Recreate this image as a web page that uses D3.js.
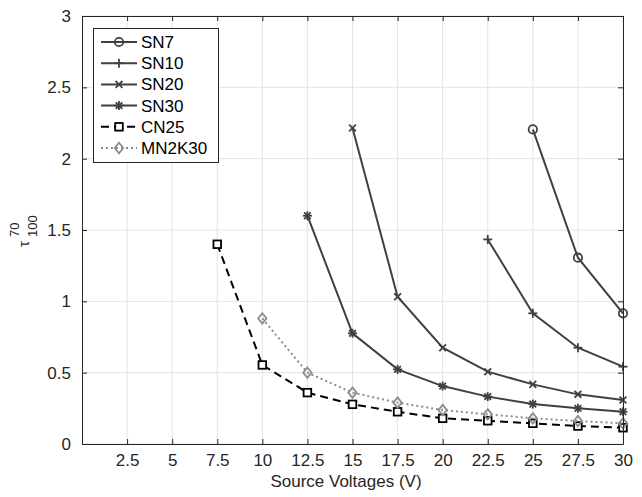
<!DOCTYPE html>
<html>
<head>
<meta charset="utf-8">
<script src="https://cdn.jsdelivr.net/npm/d3@7"></script>
<style>
  html, body { margin: 0; padding: 0; background: #fff; }
  svg { display: block; font-family: "Liberation Sans", Arial, Helvetica, sans-serif; }
</style>
</head>
<body>
<svg id="chart" width="642" height="497"></svg>
<script>
// Source voltages (V) and response times for each device
const xTicks = [2.5, 5, 7.5, 10, 12.5, 15, 17.5, 20, 22.5, 25, 27.5, 30];
const yTicks = [0, 0.5, 1, 1.5, 2, 2.5, 3];

const sn7V = [25, 27.5, 30];
const sn7T = [2.205, 1.306, 0.916];

const sn10V = [22.5, 25, 27.5, 30];
const sn10T = [1.434, 0.916, 0.675, 0.542];

const sn20V = [15, 17.5, 20, 22.5, 25, 27.5, 30];
const sn20T = [2.215, 1.032, 0.675, 0.507, 0.418, 0.348, 0.308];

const sn30V = [12.5, 15, 17.5, 20, 22.5, 25, 27.5, 30];
const sn30T = [1.6, 0.776, 0.523, 0.406, 0.332, 0.28, 0.25, 0.226];

const cn25V = [7.5, 10, 12.5, 15, 17.5, 20, 22.5, 25, 27.5, 30];
const cn25T = [1.40, 0.554, 0.36, 0.278, 0.226, 0.18, 0.163, 0.145, 0.126, 0.114];

const mn2k30V = [10, 12.5, 15, 17.5, 20, 22.5, 25, 27.5, 30];
const mn2k30T = [0.88, 0.50, 0.36, 0.29, 0.238, 0.208, 0.18, 0.161, 0.145];

const seriesNames = ["SN7", "SN10", "SN20", "SN30", "CN25", "MN2K30"];

const series = [
  { name: seriesNames[0], v: sn7V, t: sn7T, color: "#404040", dash: null, marker: "circle" },
  { name: seriesNames[1], v: sn10V, t: sn10T, color: "#404040", dash: null, marker: "plus" },
  { name: seriesNames[2], v: sn20V, t: sn20T, color: "#404040", dash: null, marker: "cross" },
  { name: seriesNames[3], v: sn30V, t: sn30T, color: "#404040", dash: null, marker: "star" },
  { name: seriesNames[4], v: cn25V, t: cn25T, color: "#000000", dash: "8,5", marker: "square" },
  { name: seriesNames[5], v: mn2k30V, t: mn2k30T, color: "#8c8c8c", dash: "2,3", marker: "diamond" }
];

const svg = d3.select("#chart");
const plotLeft = 82, plotRight = 623, plotTop = 16, plotBottom = 444;

const x = d3.scaleLinear().domain([0, 30]).range([plotLeft, plotRight]);
const y = d3.scaleLinear().domain([0, 3]).range([plotBottom, plotTop]);

const axisColor = "#262626";
const fontSize = 17;
const fmt = d3.format("~g");

// grid
const grid = svg.append("g");
grid.selectAll("line.gx").data(xTicks).join("line")
  .attr("x1", d => x(d)).attr("x2", d => x(d))
  .attr("y1", plotTop).attr("y2", plotBottom)
  .attr("stroke", "#e3e3e3").attr("stroke-width", 1);
grid.selectAll("line.gy").data(yTicks).join("line")
  .attr("x1", plotLeft).attr("x2", plotRight)
  .attr("y1", d => y(d)).attr("y2", d => y(d))
  .attr("stroke", "#e3e3e3").attr("stroke-width", 1);

// data lines and markers
function drawMarker(g, type, color, cx, cy) {
  const s = 4.5;
  if (type === "circle") {
    g.append("circle").attr("cx", cx).attr("cy", cy).attr("r", 4.2)
      .attr("fill", "none").attr("stroke", color).attr("stroke-width", 1.8);
  } else if (type === "plus" || type === "star") {
    g.append("line").attr("x1", cx - s).attr("x2", cx + s).attr("y1", cy).attr("y2", cy)
      .attr("stroke", color).attr("stroke-width", 1.8);
    g.append("line").attr("x1", cx).attr("x2", cx).attr("y1", cy - s).attr("y2", cy + s)
      .attr("stroke", color).attr("stroke-width", 1.8);
    if (type === "star") {
      const k = 3.3;
      g.append("line").attr("x1", cx - k).attr("x2", cx + k).attr("y1", cy - k).attr("y2", cy + k)
        .attr("stroke", color).attr("stroke-width", 1.8);
      g.append("line").attr("x1", cx - k).attr("x2", cx + k).attr("y1", cy + k).attr("y2", cy - k)
        .attr("stroke", color).attr("stroke-width", 1.8);
    }
  } else if (type === "cross") {
    const k = 3.4;
    g.append("line").attr("x1", cx - k).attr("x2", cx + k).attr("y1", cy - k).attr("y2", cy + k)
      .attr("stroke", color).attr("stroke-width", 1.8);
    g.append("line").attr("x1", cx - k).attr("x2", cx + k).attr("y1", cy + k).attr("y2", cy - k)
      .attr("stroke", color).attr("stroke-width", 1.8);
  } else if (type === "square") {
    g.append("rect").attr("x", cx - 3.8).attr("y", cy - 3.8).attr("width", 7.6).attr("height", 7.6)
      .attr("fill", "#fff").attr("stroke", color).attr("stroke-width", 1.8);
  } else if (type === "diamond") {
    g.append("path").attr("d", `M${cx},${cy - 5.2}L${cx + 4.2},${cy}L${cx},${cy + 5.2}L${cx - 4.2},${cy}Z`)
      .attr("fill", "none").attr("stroke", color).attr("stroke-width", 1.8);
  }
}

const line = d3.line().x(d => x(d[0])).y(d => y(d[1]));
const plot = svg.append("g");
series.forEach(s => {
  const pts = s.v.map((v, i) => [v, s.t[i]]);
  plot.append("path").datum(pts).attr("d", line)
    .attr("fill", "none").attr("stroke", s.color).attr("stroke-width", 2)
    .attr("stroke-dasharray", s.dash);
  const mg = plot.append("g");
  pts.forEach(p => drawMarker(mg, s.marker, s.color, x(p[0]), y(p[1])));
});

// axes (ticks pointing inward, box on)
const xAxisB = d3.axisBottom(x).tickValues(xTicks).tickSizeInner(-5).tickSizeOuter(0)
  .tickPadding(10).tickFormat(fmt);
const yAxisL = d3.axisLeft(y).tickValues(yTicks).tickSizeInner(-5).tickSizeOuter(0)
  .tickPadding(11).tickFormat(fmt);
const gx = svg.append("g").attr("transform", `translate(0,${plotBottom})`).call(xAxisB);
const gy = svg.append("g").attr("transform", `translate(${plotLeft},0)`).call(yAxisL);
const gxT = svg.append("g").attr("transform", `translate(0,${plotTop})`)
  .call(d3.axisTop(x).tickValues(xTicks).tickSizeInner(-5).tickSizeOuter(0).tickFormat(""));
const gyR = svg.append("g").attr("transform", `translate(${plotRight},0)`)
  .call(d3.axisRight(y).tickValues(yTicks).tickSizeInner(-5).tickSizeOuter(0).tickFormat(""));
[gx, gy, gxT, gyR].forEach(g => {
  g.selectAll("path.domain").attr("stroke", axisColor).attr("stroke-width", 1);
  g.selectAll(".tick line").attr("stroke", axisColor).attr("stroke-width", 1);
  g.selectAll(".tick text").attr("fill", axisColor).attr("font-size", fontSize)
    .attr("font-family", "Liberation Sans, Arial, sans-serif");
});

// axis titles
svg.append("text").attr("x", 346).attr("y", 487)
  .attr("text-anchor", "middle").attr("font-size", fontSize).attr("fill", axisColor)
  .text("Source Voltages (V)");

const yl = svg.append("g").attr("transform", "translate(28.5,247) rotate(-90)").attr("fill", axisColor);
yl.append("text").attr("x", 0).attr("y", 0).attr("font-size", 15).text("τ");
yl.append("text").attr("x", 10).attr("y", -10).attr("font-size", 13).text("70");
yl.append("text").attr("x", 10).attr("y", 8.5).attr("font-size", 13).text("100");

// legend
const lg = svg.append("g");
lg.append("rect").attr("x", 93.5).attr("y", 28.5).attr("width", 125).attr("height", 134)
  .attr("fill", "#fff").attr("stroke", axisColor).attr("stroke-width", 1);
const rowY = d3.scaleLinear().domain([0, 5]).range([42, 148]);
series.forEach((s, i) => {
  const cy = rowY(i);
  lg.append("line").attr("x1", 101).attr("x2", 137).attr("y1", cy).attr("y2", cy)
    .attr("stroke", s.color).attr("stroke-width", 2).attr("stroke-dasharray", s.dash);
  drawMarker(lg, s.marker, s.color, 119, cy);
  lg.append("text").attr("x", 141).attr("y", cy + 6).attr("font-size", fontSize)
    .attr("fill", "#000").text(s.name);
});
</script>
</body>
</html>
